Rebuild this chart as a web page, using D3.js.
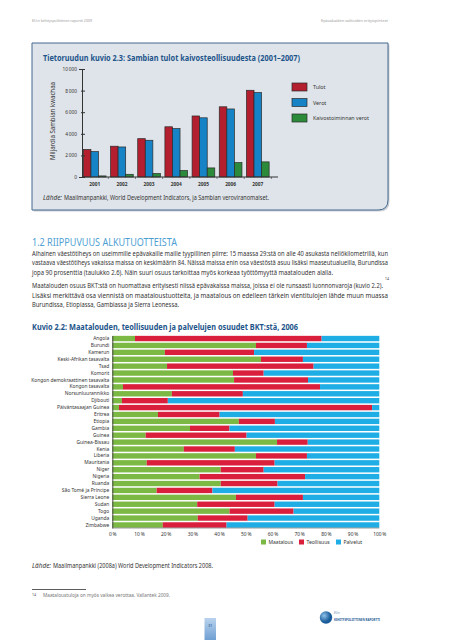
<!DOCTYPE html>
<html><head><meta charset="utf-8">
<script src="https://cdn.jsdelivr.net/npm/d3@7"></script>
<style>
html,body{margin:0;padding:0;background:#fff;}
svg{display:block;font-family:"Noto Sans",sans-serif;}
</style></head>
<body>
<svg id="c" width="453" height="640"></svg>
<script>
// ---------- DATA ----------
const years = ["2001","2002","2003","2004","2005","2006","2007"];
const tulot = [2550, 2850, 3550, 4650, 5650, 6500, 8030];
const verot = [2350, 2780, 3400, 4480, 5480, 6300, 7820];
const kaivosVerot = [100, 250, 320, 600, 840, 1330, 1400];
const seriesNames1 = ["Tulot", "Verot", "Kaivostoiminnan verot"];
const yTicks1 = [0, 2000, 4000, 6000, 8000, 10000];

const countries = ["Angola","Burundi","Kamerun","Keski-Afrikan tasavalta","Tsad","Komorit",
  "Kongon demokraattinen tasavalta","Kongon tasavalta","Norsunluurannikko","Djibouti",
  "Päiväntasaajan Guinea","Eritrea","Etiopia","Gambia","Guinea","Guinea-Bissau","Kenia",
  "Liberia","Mauritania","Niger","Nigeria","Ruanda","São Tomé ja Príncipe","Sierra Leone",
  "Sudan","Togo","Uganda","Zimbabwe"];
const maatalous = [8.5,53.8,19.7,55.7,20.5,45.2,45.6,4.0,22.3,3.6,2.5,17.1,47.4,29.1,12.5,61.7,26.8,53.8,12.9,40.6,32.7,40.6,16.6,46.3,31.8,43.9,32.0,18.9];
const teollisuus = [69.9,19.1,33.4,15.7,54.9,11.5,27.7,73.8,26.6,17.2,94.8,23.1,13.5,14.8,37.8,11.5,19.1,19.1,47.9,16.1,39.5,21.3,20.9,25.1,29.0,24.0,18.7,23.9];
const palvelut = [21.6,27.1,46.9,28.6,24.6,43.3,26.7,22.2,51.1,79.2,2.7,59.8,39.1,56.1,49.7,26.8,54.1,27.1,39.2,43.3,27.8,38.1,62.5,28.6,39.2,32.1,49.3,57.2];
const seriesNames2 = ["Maatalous","Teollisuus","Palvelut"];
const xTicks2 = [0,10,20,30,40,50,60,70,80,90,100];

// ---------- SETUP ----------
const svg = d3.select("#c");
const darkBlue = "#1d558a";
const bodyCol = "#3a3a3a";

function txt(x, y, s, opts = {}) {
  const t = svg.append("text").attr("x", x).attr("y", y)
    .attr("font-size", opts.size || 6.5)
    .attr("fill", opts.fill || bodyCol)
    .attr("font-weight", opts.weight || "normal")
    .attr("text-anchor", opts.anchor || "start");
  if (opts.style) t.attr("font-style", opts.style);
  if (opts.len) t.attr("textLength", opts.len).attr("lengthAdjust", opts.adjust || "spacingAndGlyphs");
  t.text(s);
  return t;
}

// header
txt(32, 22, "EU:n kehityspoliittinen raportti 2009", {size: 4.3, fill: "#9a9a9a", len: 60});
txt(388, 22, "Epävakaiden valtioiden erityispiirteet", {size: 4.3, fill: "#9a9a9a", anchor: "end", len: 67});

// ---------- BOX ----------
const bx0 = 32, by0 = 43, bx1 = 388, by1 = 210, r = 10;
const boxPath = `M${bx0},${by0} H${bx1} V${by1 - r} Q${bx1},${by1} ${bx1 - r},${by1} H${bx0} Z`;
svg.append("path").attr("d", boxPath).attr("transform", "translate(1.5,1.5)").attr("fill", "#c9ced4");
svg.append("path").attr("d", boxPath).attr("fill", "#dfe4ea").attr("stroke", "#45698f").attr("stroke-width", 1);

txt(43, 61, "Tietoruudun kuvio 2.3: Sambian tulot kaivosteollisuudesta (2001–2007)", {size: 8.5, weight: "bold", fill: darkBlue, len: 257});

// chart 1 scales
const x1 = d3.scaleBand().domain(years).range([82, 270.5]).paddingInner(0.165).paddingOuter(0.05);
const xs1 = d3.scaleBand().domain(seriesNames1).range([0, x1.bandwidth()]);
const y1 = d3.scaleLinear().domain([0, 10000]).range([177, 69]);
const cols1 = ["#b31f2e", "#1583c6", "#2b8b3b"];
const vals1 = [tulot, verot, kaivosVerot];

const g1 = svg.append("g");
years.forEach((yr, i) => {
  seriesNames1.forEach((s, j) => {
    const v = vals1[j][i];
    g1.append("rect")
      .attr("x", x1(yr) + xs1(s))
      .attr("y", y1(v))
      .attr("width", xs1.bandwidth())
      .attr("height", y1(0) - y1(v))
      .attr("fill", cols1[j])
      .attr("stroke", "#2a2a2a").attr("stroke-width", 0.7);
  });
});

// y axis
const yAx = d3.axisLeft(y1).tickValues(yTicks1).tickSize(3)
  .tickFormat(d => d3.format(",")(d).replace(",", "\u2009"));
const ya = svg.append("g").attr("transform", "translate(82,0)").call(yAx);
ya.select(".domain").attr("stroke", "#333").attr("stroke-width", 1);
ya.selectAll(".tick line").attr("stroke", "#333").attr("x2", 3).attr("x1", -1);
ya.selectAll(".tick text").attr("font-size", 4.8).attr("fill", "#333").attr("x", -5)
  .attr("font-family", "Noto Sans");
// x axis
svg.append("line").attr("x1", 82).attr("x2", 278).attr("y1", y1(0)).attr("y2", y1(0))
  .attr("stroke", "#333").attr("stroke-width", 1);
const xAx = d3.axisBottom(x1).tickSize(0).tickPadding(6);
const xa = svg.append("g").attr("transform", `translate(0,${y1(0)})`).call(xAx);
xa.select(".domain").remove();
xa.selectAll(".tick text").attr("font-size", 4.8).attr("fill", "#333").attr("font-weight", "bold")
  .attr("font-family", "Noto Sans");
years.forEach((yr) => {
  const xx = x1(yr) + x1.bandwidth() + (x1.step() - x1.bandwidth()) / 2;
  svg.append("line").attr("x1", xx).attr("x2", xx).attr("y1", y1(0)).attr("y2", y1(0) + 2)
    .attr("stroke", "#333").attr("stroke-width", 0.6);
});

// y title
svg.append("text").attr("transform", "translate(55,121) rotate(-90)")
  .attr("text-anchor", "middle").attr("font-size", 6.6).attr("fill", "#333")
  .attr("textLength", 78).attr("lengthAdjust", "spacingAndGlyphs")
  .text("Miljardia Sambian kwachaa");

// legend 1
seriesNames1.forEach((s, j) => {
  const ly = 83 + j * 15.5;
  svg.append("rect").attr("x", 292).attr("y", ly).attr("width", 15).attr("height", 8)
    .attr("fill", cols1[j]).attr("stroke", "#2a2a2a").attr("stroke-width", 0.7);
  txt(313, ly + 6, s, {size: 5.3, fill: "#333"});
});

txt(43, 200, "Lähde:", {size: 6.4, fill: "#333", style: "italic", len: 19});
txt(64, 200, "Maailmanpankki, World Development Indicators, ja Sambian veroviranomaiset.",
  {size: 6.4, fill: "#333", len: 205});

// ---------- TEXT SECTION ----------
txt(32, 245.5, "1.2  RIIPPUVUUS ALKUTUOTTEISTA", {size: 10, fill: "#4f9fd3", len: 145});

const para = [
  ["Alhainen väestötiheys on useimmille epävakaille maille tyypillinen piirre: 15 maassa 29:stä on alle 40 asukasta neliökilometrillä, kun", 255.5, 356],
  ["vastaava väestötiheys vakaissa maissa on keskimäärin 84. Näissä maissa enin osa väestöstä asuu lisäksi maaseutualueilla, Burundissa", 265, 356],
  ["jopa 90 prosenttia (taulukko 2.6). Näin suuri osuus tarkoittaa myös korkeaa työttömyyttä maatalouden alalla.", 274.5, 301],
  ["Maatalouden osuus BKT:stä on huomattava erityisesti niissä epävakaissa maissa, joissa ei ole runsaasti luonnonvaroja (kuvio 2.2).", 288, 351],
  ["Lisäksi merkittävä osa viennistä on maataloustuotteita, ja maatalous on edelleen tärkein vientitulojen lähde muun muassa", 297.5, 356],
  ["Burundissa, Etiopiassa, Gambiassa ja Sierra Leonessa.", 307, 147]
];
para.forEach(p => txt(32, p[1], p[0], {size: 6.3, fill: "#333", len: p[2]}));
txt(385, 280.3, "14", {size: 3.4, fill: "#333"});

// ---------- CHART 2 ----------
txt(32, 329.5, "Kuvio 2.2: Maatalouden, teollisuuden ja palvelujen osuudet BKT:stä, 2006",
  {size: 9, weight: "bold", fill: darkBlue, len: 266});

const rows = countries.map((c, i) => ({country: c, Maatalous: maatalous[i], Teollisuus: teollisuus[i], Palvelut: palvelut[i]}));
const stack = d3.stack().keys(seriesNames2)(rows);
const x2 = d3.scaleLinear().domain([0, 100]).range([112.3, 379.3]);
const y2 = d3.scaleBand().domain(countries).range([335.5, 528]).paddingInner(0.22).paddingOuter(0.05);
const cols2 = ["#7bb844", "#da1f3d", "#1eaee5"];

stack.forEach((layer, j) => {
  svg.append("g").selectAll("rect").data(layer).join("rect")
    .attr("x", d => x2(d[0]))
    .attr("y", d => y2(d.data.country))
    .attr("width", d => Math.max(0, x2(d[1]) - x2(d[0])))
    .attr("height", y2.bandwidth())
    .attr("fill", cols2[j]);
});

// axes 2
const ya2 = svg.append("g").attr("transform", "translate(112.3,0)")
  .call(d3.axisLeft(y2).tickSize(0).tickPadding(3));
ya2.select(".domain").attr("stroke", "#3b3b3b").attr("stroke-width", 0.9);
ya2.selectAll(".tick text").attr("font-size", 4.9).attr("fill", "#333").attr("font-family", "Noto Sans");
svg.append("line").attr("x1", 112.3).attr("x2", 379.3).attr("y1", 528).attr("y2", 528)
  .attr("stroke", "#555").attr("stroke-width", 0.6);

const xa2 = svg.append("g").attr("transform", "translate(0,528)")
  .call(d3.axisBottom(x2).tickValues(xTicks2).tickSize(0).tickPadding(5).tickFormat(d => d + "\u2009%"));
xa2.select(".domain").remove();
xa2.selectAll(".tick text").attr("font-size", 4.9).attr("fill", "#333").attr("font-family", "Noto Sans");

// legend 2
const leg2x = [261, 299, 336];
seriesNames2.forEach((s, j) => {
  svg.append("rect").attr("x", leg2x[j]).attr("y", 539.5).attr("width", 5).attr("height", 5).attr("fill", cols2[j]);
  txt(leg2x[j] + 7.5, 544.3, s, {size: 5, fill: "#333"});
});

txt(32, 567.5, "Lähde:", {size: 6.4, fill: "#333", style: "italic", len: 19});
txt(53, 567.5, "Maailmanpankki (2008a) World Development Indicators 2008.",
  {size: 6.4, fill: "#333", len: 160});

// footnote
svg.append("line").attr("x1", 32).attr("x2", 86).attr("y1", 589.5).attr("y2", 589.5)
  .attr("stroke", "#333").attr("stroke-width", 0.8);
txt(32, 596, "14", {size: 3.6, fill: "#555"});
txt(43, 596.5, "Maataloustuloja on myös vaikea verottaa. Vallantek 2009.", {size: 4.4, fill: "#777", len: 127});

// page number
const defs = svg.append("defs");
const gr = defs.append("linearGradient").attr("id", "pg").attr("x1", 0).attr("x2", 0).attr("y1", 0).attr("y2", 1);
gr.append("stop").attr("offset", "0%").attr("stop-color", "#b9d3ee");
gr.append("stop").attr("offset", "100%").attr("stop-color", "#6f9fd2");
svg.append("rect").attr("x", 204.5).attr("y", 618).attr("width", 11.5).attr("height", 22).attr("fill", "url(#pg)");
txt(210.2, 626.5, "31", {size: 3.6, fill: "#1d4f86", anchor: "middle"});

// logo
const lg = defs.append("radialGradient").attr("id", "lg").attr("cx", "35%").attr("cy", "35%");
lg.append("stop").attr("offset", "0%").attr("stop-color", "#8fc3ea");
lg.append("stop").attr("offset", "100%").attr("stop-color", "#1a5d9a");
svg.append("circle").attr("cx", 326).attr("cy", 617.5).attr("r", 6.2).attr("fill", "url(#lg)");
txt(334, 614, "EU:n", {size: 2.6, fill: "#5a7ea6"});
txt(334, 620.5, "KEHITYSPOLIITTINEN RAPORTTI", {size: 3.4, fill: "#1f5b96", weight: "bold", len: 46});
</script>
</body></html>
